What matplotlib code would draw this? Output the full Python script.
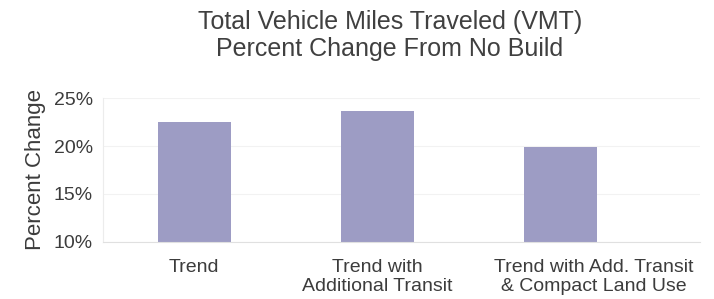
import matplotlib
matplotlib.use("Agg")
import matplotlib.pyplot as plt
import matplotlib.transforms as mtransforms
from matplotlib.ticker import FuncFormatter

# data
scenarios = ["Trend", "Trend with\nAdditional Transit", "Trend with Add. Transit\n& Compact Land Use"]
pct_change = [22.5, 23.6, 19.9]
y_ticks = [10, 15, 20, 25]

plt.rcParams['font.family'] = ['Liberation Sans', 'DejaVu Sans']
txt = "#3c3c3c"

fig = plt.figure(figsize=(7.14, 2.99), dpi=100)
ax = fig.add_axes([0.144, 0.191, 0.836, 0.481])

x = range(len(scenarios))
ax.bar(x, pct_change, width=0.4, color="#9d9cc4", zorder=2)

ax.set_xlim(-0.5, 2.76)
ax.set_ylim(10, 25)
ax.set_yticks(y_ticks)
ax.yaxis.set_major_formatter(FuncFormatter(lambda v, p: "%d%%" % v))
ax.set_xticks(list(x))
ax.set_xticklabels(scenarios, fontsize=14, color=txt, linespacing=1.15)
ax.tick_params(axis="y", labelsize=14, labelcolor=txt, length=0, pad=7)
ax.tick_params(axis="x", length=0, pad=12)
ax.grid(axis="y", color="#f2f2f2", linewidth=0.8, zorder=0)

# last label sits a bit right of its bar in the original
lbl = ax.get_xticklabels()[2]
lbl.set_transform(lbl.get_transform() + mtransforms.ScaledTranslation(0.33, 0, fig.dpi_scale_trans))

for s in ["top", "right"]:
    ax.spines[s].set_visible(False)
ax.spines["left"].set_color("#ececec")
ax.spines["bottom"].set_color("#e0e0e0")

ax.set_ylabel("Percent Change", fontsize=16, color=txt, labelpad=6)
fig.text(0.546, 0.965, "Total Vehicle Miles Traveled (VMT)\nPercent Change From No Build",
         ha="center", va="top", fontsize=18, color="#404040", linespacing=1.15)

fig.savefig("out.png", dpi=100)
